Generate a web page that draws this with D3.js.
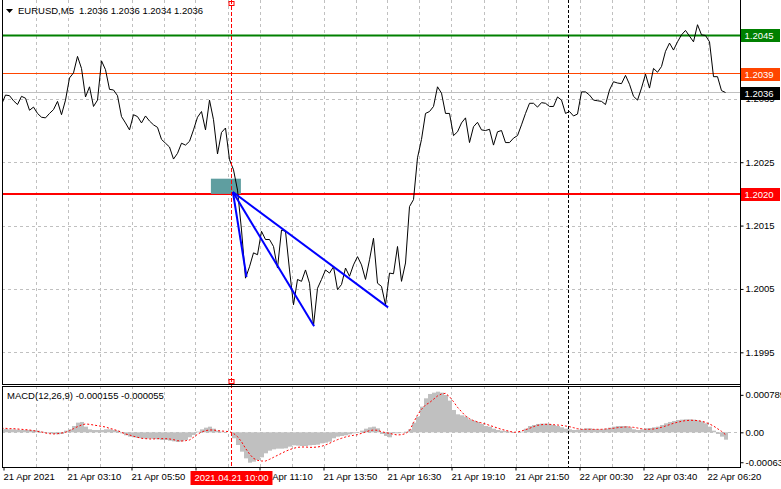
<!DOCTYPE html>
<html><head><meta charset="utf-8">
<script src="https://cdn.jsdelivr.net/npm/d3@7"></script>
<style>
body{margin:0;background:#fff}
svg{display:block}
text{font-family:"Liberation Sans",Arial,sans-serif;}
</style>
</head><body>
<svg id="c" width="781" height="489"></svg>
<script>
// ---------- DATA ----------
const symbolTitle = "EURUSD,M5";
const ohlcTitle = "1.2036 1.2036 1.2034 1.2036";
const macdTitle = "MACD(12,26,9) -0.000155 -0.000055";
const barStep = 2; // one sample every 2 M5 bars (10 minutes)

const closePrices = [
1.20341,1.20356,1.20355,1.20347,1.20341,1.20354,1.20351,1.20332,1.20337,1.20327,
1.20321,1.20320,1.20327,1.20333,1.20346,1.20325,1.20348,1.20383,1.20391,1.20417,
1.20398,1.20353,1.20369,1.20338,1.20348,1.20410,1.20396,1.20365,1.20364,1.20355,
1.20322,1.20312,1.20301,1.20325,1.20322,1.20312,1.20323,1.20315,1.20309,1.20305,
1.20286,1.20280,1.20274,1.20255,1.20264,1.20280,1.20277,1.20283,
1.20301,1.20321,1.20330,1.20301,1.20348,1.20317,1.20263,1.20297,1.20304,1.20254,
1.20238,1.20206,1.20143,1.20067,1.20085,1.20107,1.20104,1.20141,1.20128,1.20128,
1.20117,1.20083,1.20143,1.20141,1.20080,1.20025,1.20065,1.20062,1.20080,1.20059,
1.19992,1.20051,1.20065,1.20080,1.20075,1.20085,1.20049,1.20057,1.20083,1.20070,
1.20088,1.20101,1.20088,1.20065,1.20096,1.20130,1.20059,1.20054,1.20025,1.20075,
1.20074,1.20117,1.20062,1.20091,1.20180,1.20191,1.20257,1.20286,1.20327,1.20330,
1.20338,1.20369,1.20359,1.20327,1.20327,1.20292,1.20298,1.20312,1.20320,1.20281,
1.20306,1.20313,1.20301,1.20300,1.20302,1.20277,1.20298,1.20300,1.20281,1.20281,
1.20288,1.20292,1.20309,1.20327,1.20343,1.20343,1.20337,1.20344,1.20343,1.20338,
1.20338,1.20353,1.20348,1.20327,1.20330,1.20323,1.20326,1.20361,1.20361,1.20356,
1.20348,1.20347,1.20346,1.20341,1.20364,1.20377,1.20375,1.20374,1.20387,1.20373,
1.20354,1.20348,1.20367,1.20389,1.20367,1.20398,1.20392,1.20401,1.20425,1.20438,
1.20427,1.20440,1.20451,1.20458,1.20449,1.20440,1.20467,1.20451,1.20450,1.20440,
1.20385,1.20385,1.20363,1.20360
];

const macdMain = [
0.000063,0.000070,0.000063,0.000063,0.000056,0.000049,0.000049,0.000049,0.000042,0.000035,
0.000014,0.000007,-0.000021,-0.000035,-0.000042,-0.000035,0.000035,0.000063,0.000133,0.000204,
0.000218,0.000119,0.000063,0.000049,0.000049,0.000049,0.000063,0.000063,0.000049,0.000035,
-0.000021,-0.000063,-0.000091,-0.000105,-0.000119,-0.000126,-0.000133,-0.000133,-0.000140,-0.000147,
-0.000161,-0.000161,-0.000176,-0.000190,-0.000204,-0.000190,-0.000161,-0.000105,-0.000056,0.000014,
0.000063,0.000098,0.000119,0.000077,0.000035,0.000014,0,0,-0.000126,-0.000267,
-0.000407,-0.000548,-0.000639,-0.000618,-0.000583,-0.000527,-0.000442,-0.000386,-0.000358,-0.000344,
-0.000344,-0.000337,-0.000302,-0.000274,-0.000281,-0.000288,-0.000288,-0.000274,-0.000267,-0.000260,
-0.000232,-0.000218,-0.000197,-0.000126,-0.000091,-0.000077,-0.000063,-0.000042,-0.000021,-0.000007,
0.000035,0.000077,0.000105,0.000119,0.000084,-0.000035,-0.000077,-0.000105,-0.000021,-0.000021,
-0.000007,0.000014,0.000063,0.000204,0.000330,0.000541,0.000716,0.000807,0.000835,0.000856,
0.000835,0.000786,0.000667,0.000470,0.000379,0.000358,0.000330,0.000274,0.000246,0.000218,
0.000176,0.000133,0.000119,0.000077,0.000049,0.000035,0.000028,0.000014,0,0,
0.000014,0.000077,0.000133,0.000154,0.000176,0.000183,0.000183,0.000176,0.000154,0.000133,
0.000105,0.000077,0.000063,0.000049,0.000056,0.000070,0.000084,0.000084,0.000070,0.000063,
0.000063,0.000077,0.000098,0.000119,0.000133,0.000133,0.000133,0.000105,0.000063,0.000049,
0.000063,0.000084,0.000091,0.000105,0.000119,0.000154,0.000190,0.000218,0.000239,0.000260,
0.000267,0.000274,0.000274,0.000267,0.000253,0.000232,0.000190,0.000119,0.000035,-0.000035,
-0.000091,-0.000155
];

const macdSignal = [
0.000084,0.000084,0.000077,0.000077,0.000070,0.000063,0.000056,0.000049,0.000035,0.000021,
0.000007,-0.000014,-0.000028,-0.000035,-0.000028,-0.000014,0,0.000035,0.000077,0.000119,
0.000154,0.000176,0.000168,0.000154,0.000140,0.000126,0.000112,0.000084,0.000063,0.000035,
0,-0.000035,-0.000056,-0.000084,-0.000105,-0.000126,-0.000133,-0.000140,-0.000140,-0.000133,
-0.000133,-0.000133,-0.000140,-0.000154,-0.000176,-0.000183,-0.000176,-0.000161,-0.000105,-0.000042,
0.000007,0.000035,0.000049,0.000049,0.000035,0.000028,0.000021,0.000014,-0.000021,-0.000091,
-0.000197,-0.000337,-0.000456,-0.000548,-0.000590,-0.000604,-0.000604,-0.000569,-0.000527,-0.000484,
-0.000442,-0.000400,-0.000365,-0.000337,-0.000316,-0.000309,-0.000309,-0.000316,-0.000316,-0.000309,
-0.000295,-0.000267,-0.000232,-0.000190,-0.000154,-0.000126,-0.000098,-0.000077,-0.000063,-0.000049,
-0.000021,0.000007,0.000035,0.000049,0.000042,0.000014,-0.000007,-0.000021,-0.000042,-0.000056,
-0.000049,-0.000028,0.000035,0.000204,0.000365,0.000484,0.000576,0.000625,0.000695,0.000765,
0.000807,0.000821,0.000751,0.000646,0.000527,0.000435,0.000344,0.000288,0.000246,0.000218,
0.000197,0.000176,0.000147,0.000119,0.000091,0.000063,0.000042,0.000021,0,0.000007,
0.000028,0.000056,0.000084,0.000119,0.000147,0.000161,0.000168,0.000168,0.000161,0.000154,
0.000147,0.000133,0.000119,0.000098,0.000077,0.000063,0.000063,0.000063,0.000063,0.000063,
0.000063,0.000070,0.000077,0.000084,0.000098,0.000105,0.000112,0.000112,0.000105,0.000091,
0.000077,0.000063,0.000063,0.000070,0.000084,0.000105,0.000133,0.000161,0.000190,0.000211,
0.000232,0.000246,0.000253,0.000253,0.000246,0.000232,0.000211,0.000176,0.000133,0.000077,
0.000021,-0.000049
];

const priceTicks = [1.2045, 1.2035, 1.2025, 1.2015, 1.2005, 1.1995];
const macdTicks = [0.000789, 0, -0.00063];
const macdTickLabels = ["0.000789", "0.00", "-0.00063"];

const timeTickBars = [1, 33, 65, 97, 129, 161, 193, 225, 257, 289, 321, 353];
// the 08:30 label sits under the cursor time box, as in the reference
const timeLabels = ["21 Apr 2021","21 Apr 03:10","21 Apr 05:50","","21 Apr 11:10",
  "21 Apr 13:50","21 Apr 16:30","21 Apr 19:10","21 Apr 21:50","22 Apr 00:30","22 Apr 03:40","22 Apr 06:20"];
const gridBars = [17,33,49,65,81,97,113,129,145,161,177,193,209,225,241,257,273,289,305,321,337,353];

const levelLines = [
  {price: 1.2036, label: "1.2036", color: "#c0c0c0", box: "#000000", width: 1},
  {price: 1.2039, label: "1.2039", color: "#ff4500", box: "#ff4500", width: 1},
  {price: 1.2045, label: "1.2045", color: "#008000", box: "#008000", width: 2},
  {price: 1.2020, label: "1.2020", color: "#ff0000", box: "#ff0000", width: 2}
];

const cursorBar = 114.8;
const cursorLabel = "2021.04.21 10:00";
const separatorBar = 283;

const zoneRect = {bar0: 104.7, bar1: 119.7, p0: 1.20200, p1: 1.20224};
const trendApex = {bar: 115.7, price: 1.20203};
const trendEnds = [
  {bar: 122.5, price: 1.20069},
  {bar: 156.3, price: 1.19991},
  {bar: 193.3, price: 1.20021}
];

// ---------- LAYOUT ----------
const L = 2, R = 740, mainTop = 0, mainBot = 384, mTop = 386, mBot = 467;
const svg = d3.select("#c");
svg.append("rect").attr("width", 781).attr("height", 489).attr("fill", "#fff");

const x = d3.scaleLinear().domain([0, 369]).range([1.5, 739.5]);
const y = d3.scaleLinear().domain([1.19900, 1.20506]).range([mainBot, mainTop]);
const ym = d3.scaleLinear().domain([-0.00073, 0.000975]).range([mBot, mTop]);

const defs = svg.append("defs");
defs.append("clipPath").attr("id", "cm").append("rect").attr("x", L).attr("y", mainTop).attr("width", R - L).attr("height", mainBot - mainTop);
defs.append("clipPath").attr("id", "cd").append("rect").attr("x", L).attr("y", mTop).attr("width", R - L).attr("height", mBot - mTop);

const gridColor = "#c0c0c0";
const gGrid = svg.append("g").attr("stroke", gridColor).attr("stroke-dasharray", "3,3").attr("shape-rendering", "crispEdges");
gridBars.forEach(b => {
  const xx = Math.round(x(b)) + 0.5;
  gGrid.append("line").attr("x1", xx).attr("x2", xx).attr("y1", mainTop).attr("y2", mainBot);
  gGrid.append("line").attr("x1", xx).attr("x2", xx).attr("y1", mTop).attr("y2", mBot);
});
priceTicks.forEach(p => {
  const yy = Math.round(y(p)) + 0.5;
  gGrid.append("line").attr("x1", L).attr("x2", R).attr("y1", yy).attr("y2", yy);
});
{
  const yy = Math.round(ym(0)) + 0.5;
  gGrid.append("line").attr("x1", L).attr("x2", R).attr("y1", yy).attr("y2", yy);
}

const gMain = svg.append("g").attr("clip-path", "url(#cm)");
levelLines.forEach(l => {
  gMain.append("line").attr("x1", L).attr("x2", R)
    .attr("y1", y(l.price)).attr("y2", y(l.price))
    .attr("stroke", l.color).attr("stroke-width", l.width);
});

gMain.append("rect")
  .attr("x", x(zoneRect.bar0)).attr("y", y(zoneRect.p1))
  .attr("width", x(zoneRect.bar1) - x(zoneRect.bar0))
  .attr("height", y(zoneRect.p0) - y(zoneRect.p1))
  .attr("fill", "#5f9ea0");

const line = d3.line().x((d, i) => x(i * barStep)).y(d => y(d));
gMain.append("path").datum(closePrices).attr("d", line)
  .attr("fill", "none").attr("stroke", "#000").attr("stroke-width", 1);

trendEnds.forEach(e => {
  gMain.append("line")
    .attr("x1", x(trendApex.bar)).attr("y1", y(trendApex.price))
    .attr("x2", x(e.bar)).attr("y2", y(e.price))
    .attr("stroke", "#0000ff").attr("stroke-width", 2);
});

const gM = svg.append("g").attr("clip-path", "url(#cd)");
gM.selectAll("rect.h").data(macdMain).enter().append("rect")
  .attr("x", (d, i) => x(i * barStep) - 1.5)
  .attr("width", 4)
  .attr("y", d => Math.min(ym(d), ym(0)))
  .attr("height", d => Math.abs(ym(d) - ym(0)))
  .attr("fill", "#c0c0c0");
const sline = d3.line().x((d, i) => x(i * barStep)).y(d => ym(d));
gM.append("path").datum(macdSignal).attr("d", sline)
  .attr("fill", "none").attr("stroke", "#ff0000").attr("stroke-width", 1).attr("stroke-dasharray", "2,2");

const sx = Math.round(x(separatorBar)) + 0.5;
svg.append("line").attr("x1", sx).attr("x2", sx).attr("y1", mainTop).attr("y2", mainBot).attr("stroke", "#000").attr("stroke-dasharray", "3,2");
svg.append("line").attr("x1", sx).attr("x2", sx).attr("y1", mTop).attr("y2", mBot).attr("stroke", "#000").attr("stroke-dasharray", "3,2");
const cx = Math.round(x(cursorBar)) + 0.5;
svg.append("line").attr("x1", cx).attr("x2", cx).attr("y1", mainTop).attr("y2", mBot)
  .attr("stroke", "#ff0000").attr("stroke-dasharray", "4,2").attr("shape-rendering", "crispEdges");
svg.append("rect").attr("x", cx - 2.5).attr("y", 1.5).attr("width", 5).attr("height", 4).attr("fill", "none").attr("stroke", "#ff0000");
svg.append("rect").attr("x", cx - 2.5).attr("y", mainBot - 4.5).attr("width", 5).attr("height", 4).attr("fill", "none").attr("stroke", "#ff0000");

const gB = svg.append("g").attr("stroke", "#000").attr("shape-rendering", "crispEdges").attr("fill", "none");
gB.append("line").attr("x1", L + 0.5).attr("x2", L + 0.5).attr("y1", mainTop).attr("y2", mainBot);
gB.append("line").attr("x1", L + 0.5).attr("x2", L + 0.5).attr("y1", mTop).attr("y2", mBot);
gB.append("line").attr("x1", L).attr("x2", R).attr("y1", mainBot + 0.5).attr("y2", mainBot + 0.5);
gB.append("line").attr("x1", L).attr("x2", R).attr("y1", mTop + 0.5).attr("y2", mTop + 0.5);
gB.append("line").attr("x1", L).attr("x2", R + 1).attr("y1", mBot + 0.5).attr("y2", mBot + 0.5);
gB.append("line").attr("x1", R + 0.5).attr("x2", R + 0.5).attr("y1", mainTop).attr("y2", mBot);

const fs = "9.5px";
const ay = svg.append("g").attr("transform", `translate(${R + 0.5},0)`)
  .call(d3.axisRight(y).tickValues(priceTicks).tickSize(3).tickPadding(2).tickFormat(d3.format(".4f")));
ay.select(".domain").remove();
ay.selectAll("text").attr("font-size", fs).attr("fill", "#000").attr("font-family", "Liberation Sans, Arial, sans-serif");
ay.selectAll("line").attr("stroke", "#000");

const am = svg.append("g").attr("transform", `translate(${R + 0.5},0)`)
  .call(d3.axisRight(ym).tickValues(macdTicks).tickSize(3).tickPadding(2).tickFormat((d, i) => macdTickLabels[i]));
am.select(".domain").remove();
am.selectAll("text").attr("font-size", fs).attr("fill", "#000").attr("font-family", "Liberation Sans, Arial, sans-serif");
am.selectAll("line").attr("stroke", "#000");

const ax = svg.append("g").attr("transform", `translate(0,${mBot + 0.5})`)
  .call(d3.axisBottom(x).tickValues(timeTickBars).tickSize(3).tickPadding(3).tickFormat((d, i) => timeLabels[i]));
ax.select(".domain").remove();
ax.selectAll("line").attr("stroke", "#000");
ax.selectAll("text").attr("font-size", fs).attr("fill", "#000").attr("text-anchor", "start").attr("x", -0.5)
  .attr("font-family", "Liberation Sans, Arial, sans-serif");

levelLines.forEach(l => {
  const yy = y(l.price);
  svg.append("rect").attr("x", R + 1).attr("y", Math.round(yy) - 6).attr("width", 39).attr("height", 13).attr("fill", l.box);
  svg.append("text").attr("x", R + 4.5).attr("y", Math.round(yy) + 3.5).attr("font-size", fs).attr("fill", "#fff").text(l.label);
});

{
  const t = svg.append("text").attr("x", cx).attr("y", 481).attr("font-size", fs).attr("fill", "#fff")
    .attr("text-anchor", "middle").text(cursorLabel);
  const w = t.node().getComputedTextLength() + 8;
  svg.insert("rect", () => t.node()).attr("x", cx - w / 2).attr("y", 471).attr("width", w).attr("height", 14).attr("fill", "#ff0000");
}

svg.append("path").attr("d", "M6,9 L13,9 L9.5,13 Z").attr("fill", "#000");
svg.append("text").attr("x", 18).attr("y", 14).attr("font-size", fs).attr("fill", "#000").text(symbolTitle);
svg.append("text").attr("x", 79).attr("y", 14).attr("font-size", fs).attr("fill", "#000").text(ohlcTitle);
svg.append("text").attr("x", 7).attr("y", 399).attr("font-size", fs).attr("fill", "#000").text(macdTitle);
</script>
</body></html>
